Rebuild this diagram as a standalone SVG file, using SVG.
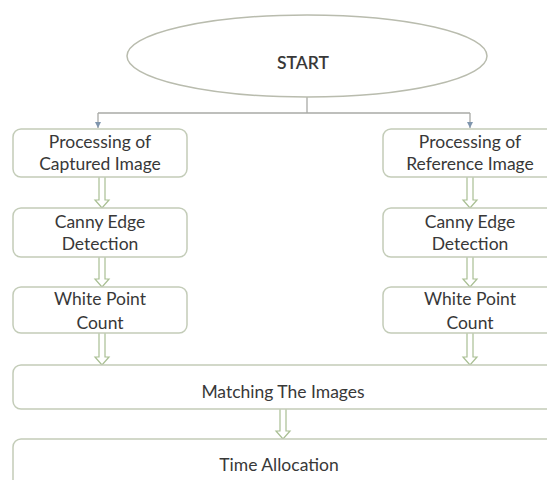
<svg xmlns="http://www.w3.org/2000/svg" width="547" height="480" viewBox="0 0 547 480">
<defs>
<style>
.box{fill:#ffffff;stroke:#c3ccb8;stroke-width:1.5}
.ell{fill:#ffffff;stroke:#b9bcae;stroke-width:1.5}
.t{font-family:Lato,"Liberation Sans",sans-serif;font-size:17.5px;fill:#383838;text-anchor:middle}
.line{fill:none;stroke:#a9aaa6;stroke-width:1.3}
.barrow{fill:#ffffff;stroke:#a9bf93;stroke-width:1.2}
</style>
<marker id="ah" markerWidth="8" markerHeight="8" refX="6" refY="4" orient="auto" markerUnits="userSpaceOnUse">
<path d="M0,1 L6,4 L0,7 Z" fill="#7f95ad"/>
</marker>
</defs>
<rect width="547" height="480" fill="#ffffff"/>
<g id="connectors">
<path class="line" d="M307,97 V113"/>
<path class="line" d="M98,113 H470"/>
<path class="line" d="M98,113 V128" marker-end="url(#ah)"/>
<path class="line" d="M470,113 V128" marker-end="url(#ah)"/>
<path class="barrow" d="M99,177 V200 H95 L102,208 L109,200 H105 V177"/>
<path class="barrow" d="M99,257 V279 H95 L102,287 L109,279 H105 V257"/>
<path class="barrow" d="M99,333 V357 H95 L102,365 L109,357 H105 V333"/>
<path class="barrow" d="M467,177 V200 H463 L470,208 L477,200 H473 V177"/>
<path class="barrow" d="M467,257 V279 H463 L470,287 L477,279 H473 V257"/>
<path class="barrow" d="M467,333 V357 H463 L470,365 L477,357 H473 V333"/>
<path class="barrow" d="M280,409 V431 H276 L283,439 L290,431 H286 V409"/>
</g>
<g id="start">
<ellipse class="ell" cx="307" cy="56" rx="180" ry="41"/>
<text class="t" x="303" y="69" style="font-weight:600">START</text>
</g>
<g id="proc-captured">
<rect class="box" x="13" y="129" width="174" height="48" rx="8"/>
<text class="t" x="100" y="148">Processing of</text>
<text class="t" x="100" y="170">Captured Image</text>
</g>
<g id="proc-reference">
<rect class="box" x="383" y="129" width="174" height="48" rx="8"/>
<text class="t" x="470" y="148">Processing of</text>
<text class="t" x="470" y="170">Reference Image</text>
</g>
<g id="canny-left">
<rect class="box" x="13" y="208" width="174" height="49" rx="8"/>
<text class="t" x="100" y="228">Canny Edge</text>
<text class="t" x="100" y="250">Detection</text>
</g>
<g id="canny-right">
<rect class="box" x="383" y="208" width="174" height="49" rx="8"/>
<text class="t" x="470" y="228">Canny Edge</text>
<text class="t" x="470" y="250">Detection</text>
</g>
<g id="white-left">
<rect class="box" x="13" y="287" width="174" height="46" rx="8"/>
<text class="t" x="100" y="305">White Point</text>
<text class="t" x="100" y="329">Count</text>
</g>
<g id="white-right">
<rect class="box" x="383" y="287" width="174" height="46" rx="8"/>
<text class="t" x="470" y="305">White Point</text>
<text class="t" x="470" y="329">Count</text>
</g>
<g id="matching">
<rect class="box" x="13" y="365" width="544" height="44" rx="8"/>
<text class="t" x="283" y="398">Matching The Images</text>
</g>
<g id="time">
<rect class="box" x="13" y="439" width="544" height="50" rx="8"/>
<text class="t" x="279" y="471">Time Allocation</text>
</g>
</svg>
